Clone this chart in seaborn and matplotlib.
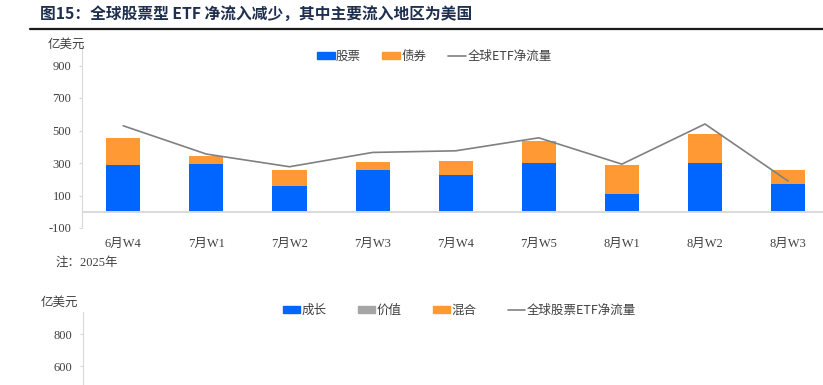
import numpy as np
import pandas as pd
import seaborn as sns
import matplotlib.pyplot as plt
from matplotlib.patches import Patch
from matplotlib.lines import Line2D

# 数据（亿美元）
weeks = ["6月W4", "7月W1", "7月W2", "7月W3", "7月W4", "7月W5", "8月W1", "8月W2", "8月W3"]
stock = [287, 293, 158, 257, 224, 298, 111, 298, 170]
bond = [168, 50, 101, 47, 86, 137, 176, 180, 87]
etf_total = [529, 355, 277, 365, 375, 455, 293, 540, 189]

yticks_top = [-100, 100, 300, 500, 700, 900]
yticks_bottom = [600, 800]
legend_top = ["股票", "债券", "全球ETF净流量"]
legend_bottom = ["成长", "价值", "混合", "全球股票ETF净流量"]

BLUE = "#0066FF"
ORANGE = "#FF9933"
GRAY = "#A5A5A5"
LINE = "#808080"
TXT = "#404040"
AXC = "#D9D9D9"

sns.set_theme(style="white")
plt.rcParams["font.family"] = ["Liberation Serif", "Noto Sans CJK SC", "DejaVu Sans"]
plt.rcParams["axes.unicode_minus"] = False

df = pd.DataFrame(dict(week=weeks, stock=stock, bond=bond, total=etf_total))
df["top"] = df["stock"] + df["bond"]

W, H = 823, 385
fig = plt.figure(figsize=(W / 100, H / 100), dpi=100)

def box(x0, y_top, x1, y_bot):
    return [x0 / W, 1 - y_bot / H, (x1 - x0) / W, (y_bot - y_top) / H]

# 标题
fig.text(40 / W, 1 - 14 / H, "图15：全球股票型 ETF 净流入减少，其中主要流入地区为美国",
         family=["Noto Sans CJK SC"], fontweight="bold", fontsize=11.3,
         color="#1F2F4F", va="center", ha="left")
fig.add_artist(Line2D([30 / W, 1], [1 - 29 / H] * 2, color="#1A1A1A", lw=1.6))

# 上图
ax = fig.add_axes(box(81.7, 42.75, 823, 228))
sns.barplot(data=df, x="week", y="top", color=ORANGE, saturation=1, width=0.41,
            errorbar=None, ax=ax, linewidth=0)
sns.barplot(data=df, x="week", y="stock", color=BLUE, saturation=1, width=0.41,
            errorbar=None, ax=ax, linewidth=0)
sns.lineplot(x=np.arange(len(weeks)), y=df["total"], color=LINE, lw=1.2, ax=ax)
ax.axhline(0, color=AXC, lw=1.4, zorder=1)
ax.set_xlim(-0.5, 8.42)
ax.set_ylim(-100, 1040)
ax.set_yticks(yticks_top)
ax.set_xticks(range(len(weeks)))
ax.set_xticklabels(weeks)
ax.set_xlabel("")
ax.set_ylabel("")
for s in ["top", "right", "bottom"]:
    ax.spines[s].set_visible(False)
ax.spines["left"].set_color(AXC)
ax.spines["left"].set_linewidth(0.8)
ax.tick_params(axis="y", left=True, length=2.5, width=0.8, color=AXC, pad=5,
               labelsize=9, labelcolor=TXT)
ax.tick_params(axis="x", bottom=False, pad=1.5, labelsize=9, labelcolor=TXT)
fig.text(66 / W, 1 - 44 / H, "亿美元", fontsize=9, color=TXT, ha="center", va="center",
         family=["Noto Sans CJK SC"])

h_top = [Patch(color=BLUE), Patch(color=ORANGE), Line2D([], [], color=LINE, lw=1.2)]
fig.legend(h_top, legend_top, loc="center", bbox_to_anchor=(434 / W, 1 - 56 / H),
           ncol=3, frameon=False, labelcolor=TXT, handlelength=1.45,
           handleheight=0.5, handletextpad=0.1, columnspacing=1.7,
           prop=dict(family=["Noto Sans CJK SC"], size=9))

fig.text(56 / W, 1 - 263 / H, "注：2025年", fontsize=9, color=TXT, ha="left", va="center")

# 下图（仅可见上部）
ax2 = fig.add_axes(box(83, 312, 823, 494.4))
ax2.set_ylim(-200, 940)
ax2.set_xlim(0, 1)
ax2.set_yticks(yticks_bottom)
ax2.set_xticks([])
for s in ["top", "right", "bottom"]:
    ax2.spines[s].set_visible(False)
ax2.spines["left"].set_color(AXC)
ax2.spines["left"].set_linewidth(0.8)
ax2.tick_params(axis="y", left=True, length=2.5, width=0.8, color=AXC, pad=5,
                labelsize=9, labelcolor=TXT)
fig.text(59 / W, 1 - 302 / H, "亿美元", fontsize=9, color=TXT, ha="center", va="center",
         family=["Noto Sans CJK SC"])

h_bot = [Patch(color=BLUE), Patch(color=GRAY), Patch(color=ORANGE),
         Line2D([], [], color=LINE, lw=1.2)]
fig.legend(h_bot, legend_bottom, loc="center", bbox_to_anchor=(459 / W, 1 - 310 / H),
           ncol=4, frameon=False, labelcolor=TXT, handlelength=1.4,
           handleheight=0.5, handletextpad=0.1, columnspacing=2.5,
           prop=dict(family=["Noto Sans CJK SC"], size=9))

fig.savefig("out.png", dpi=100)
